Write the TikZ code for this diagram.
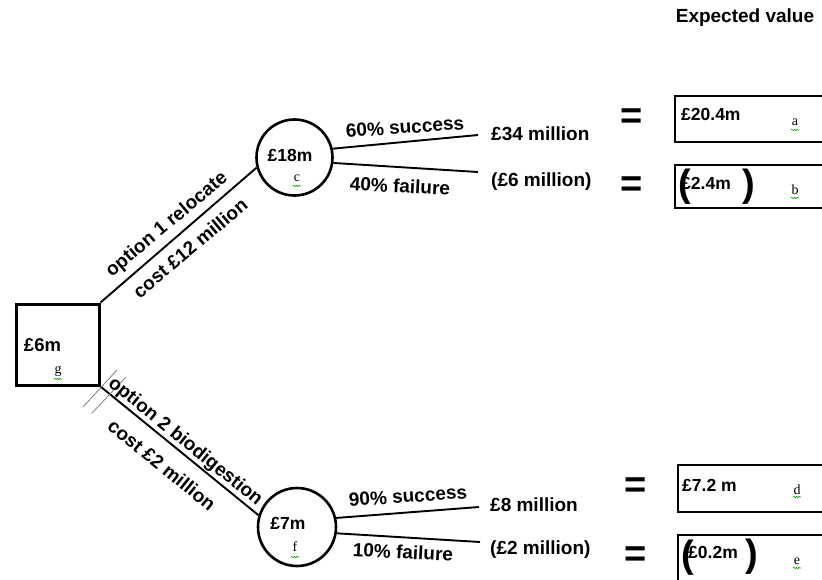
\documentclass[tikz,border=0pt]{standalone}
\usepackage{fontspec}
\setmainfont{Liberation Sans}
\newfontfamily\letterfont{Liberation Serif}
\usetikzlibrary{decorations.pathmorphing}
\begin{document}
\begin{tikzpicture}[x=1pt,y=-1pt,
  lbl/.style={font=\bfseries\fontsize{19}{21}\selectfont, inner sep=0pt},
  val/.style={font=\bfseries\fontsize{17.5}{19}\selectfont, inner sep=0pt},
  big/.style={font=\bfseries\fontsize{38}{40}\selectfont, inner sep=0pt},
  ltr/.style={font=\letterfont\fontsize{14}{15}\selectfont, inner sep=0pt},
  wavy/.style={draw=green!60!black, line width=0.6pt, decorate, decoration={snake, amplitude=0.7pt, segment length=2.6pt}},
  branch/.style={line width=1.9pt},
  hash/.style={draw=gray, line width=0.8pt},
  decbox/.style={draw, line width=3pt, minimum width=83pt, minimum height=81pt, inner sep=0pt},
  chance/.style={draw, circle, line width=2.6pt, inner sep=0pt},
  evbox/.style={draw, line width=2.8pt, inner sep=0pt}]
\useasboundingbox (0,0) rectangle (822,579);
\clip (0,0) rectangle (822,579);

% decision node
\node[decbox] (g) at (57.5,344.5) {};
\node[lbl, font=\bfseries\fontsize{18.5}{20}\selectfont] (gv) at (42.5,345) {£6m};
\node[ltr] (gl) at (58,371) {g};
\draw[wavy] (54,379) -- (62,379);

% chance nodes
\node[chance, minimum size=76pt] (c) at (294.5,157.5) {};
\node[val] (cv) at (290,155) {£18m};
\node[ltr] (cl) at (297,178) {c};
\draw[wavy] (293,186) -- (301,186);

\node[chance, minimum size=78pt] (f) at (297,527) {};
\node[val] (fv) at (288,523) {£7m};
\node[ltr] (fl) at (295,547) {f};
\draw[wavy] (291,557) -- (299,557);

% main branches
\draw[branch] (g.north east) -- (c.195);
\draw[branch] (g.south east) -- (f.163);
\draw[hash] (83,407) -- (117,370);
\draw[hash] (92,413) -- (126,377);

\node[lbl, rotate=40] (o1) at (167,225) {option 1 relocate};
\node[lbl, rotate=40] (k1) at (190,248) {cost £12 million};
\node[lbl, rotate=-39] (o2) at (185,442) {option 2 biodigestion};
\node[lbl, rotate=-39] (k2) at (162,465) {cost £2 million};

% outcome branches
\coordinate (c1) at (478,135);
\coordinate (c2) at (478,172);
\coordinate (f1) at (479,507);
\coordinate (f2) at (480,542);
\draw[branch] (c.13) -- (c1);
\draw[branch] (c.-8) -- (c2);
\draw[branch] (f.13) -- (f1);
\draw[branch] (f.-9) -- (f2);

\node[lbl, rotate=4] (p1) at (405,127) {60\% success};
\node[lbl, rotate=-3] (p2) at (400,186) {40\% failure};
\node[lbl, rotate=4] (p3) at (408,496) {90\% success};
\node[lbl, rotate=-3] (p4) at (403,552) {10\% failure};

\node[lbl, anchor=west] (r1) at (491,134) {£34 million};
\node[lbl, anchor=west] (r2) at (491,182) {(£6 million)};
\node[lbl, anchor=west] (r3) at (490,505) {£8 million};
\node[lbl, anchor=west] (r4) at (490,550) {(£2 million)};

% equals signs
\node[big] (e1) at (632,119) {=};
\node[big] (e2) at (632,187) {=};
\node[big] (e3) at (636,488) {=};
\node[big] (e4) at (636,557) {=};

% expected value boxes
\node[lbl] (ev) at (745,18) {Expected value};
\node[evbox, minimum width=151pt, minimum height=46pt] (a) at (750.5,119) {};
\node[evbox, minimum width=151pt, minimum height=43pt] (b) at (750.5,186.5) {};
\node[evbox, minimum width=148pt, minimum height=47pt] (d) at (752,488.5) {};
\node[evbox, minimum width=148pt, minimum height=55pt] (e) at (752,562.5) {};

\node[val, anchor=west] (av) at (681,114) {£20.4m};
\node[ltr] (al) at (795,122) {a};
\draw[wavy] (791,130) -- (799,130);

\node[val, anchor=west] (bv) at (681,183) {£2.4m};
\node[big] (bo) at (685,187) {(};
\node[big] (bc) at (749,187) {)};
\node[ltr] (bl) at (795,190) {b};
\draw[wavy] (791,198) -- (799,198);

\node[val, anchor=west] (dv) at (682,485) {£7.2 m};
\node[ltr] (dl) at (797,490) {d};
\draw[wavy] (793,497) -- (801,497);

\node[val, anchor=west] (ev2) at (688,552) {£0.2m};
\node[big] (eo) at (688,558) {(};
\node[big] (ec) at (752,557) {)};
\node[ltr] (el) at (797,561) {e};
\draw[wavy] (793,568) -- (801,568);
\end{tikzpicture}
\end{document}
